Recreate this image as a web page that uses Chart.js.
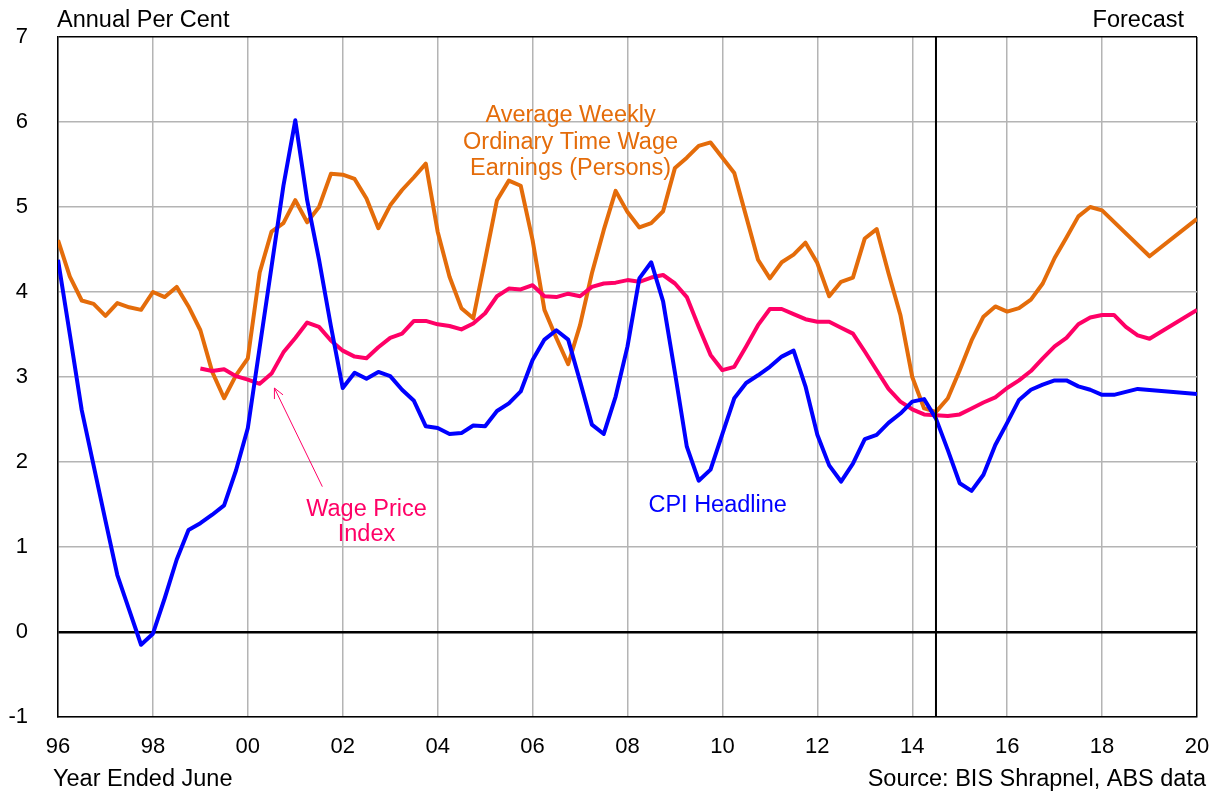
<!DOCTYPE html>
<html>
<head>
<meta charset="utf-8">
<script src="https://cdn.jsdelivr.net/npm/chart.js@4/dist/chart.umd.min.js"></script>
<style>
body{margin:0;background:#fff;}
#wrap{width:1218px;height:793px;}
</style>
</head>
<body>
<div id="wrap"><canvas id="grafica" width="1218" height="793"></canvas></div>
<script>
// quarterly, year ended June, 1996 .. 2020 (null = no vertex, line joins across)
var quarters = [];
for (var q = 0; q <= 96; q++) quarters.push(1996 + q / 4);

var tickLabels = ['96','98','00','02','04','06','08','10','12','14','16','18','20'];

var cpi = [4.38,3.5,2.61,1.96,1.31,0.67,0.26,-0.15,-0.02,0.4,0.85,1.2,
  1.28,1.38,1.49,1.9,2.4,3.35,4.3,5.25,6.02,5.08,4.38,3.6,
  2.87,3.05,2.98,3.06,3.01,2.85,2.72,2.42,2.4,2.33,2.34,2.43,
  2.42,2.6,2.69,2.83,3.2,3.44,3.55,3.44,2.95,2.44,2.33,2.77,
  3.36,4.16,4.35,3.89,3.05,2.18,1.78,1.91,2.33,2.75,2.93,3.02,
  3.12,3.24,3.31,2.89,2.32,1.96,1.77,1.98,2.27,2.32,2.46,2.57,
  2.71,2.74,2.51,2.14,1.75,1.66,1.85,2.2,2.46,2.73,2.85,2.91,
  2.96,2.96,2.89,2.85,2.79,2.79,null,2.86,null,null,null,null,2.8];

var awote = [4.61,4.18,3.9,3.86,3.72,3.87,3.82,3.79,4.0,3.94,4.06,3.83,
  3.55,3.06,2.75,3.02,3.22,4.23,4.71,4.81,5.08,4.82,5.0,5.39,
  5.38,5.33,5.1,4.75,5.02,5.2,5.35,5.51,4.71,4.18,3.81,3.69,
  4.38,5.08,5.31,5.25,4.61,3.79,3.46,3.15,3.61,4.22,4.73,5.19,
  4.94,4.76,4.81,4.95,5.46,5.58,5.72,5.76,5.58,5.4,4.89,4.38,
  4.16,4.35,4.44,4.58,4.34,3.95,4.12,4.17,4.63,4.74,4.22,3.73,
  3.0,2.63,2.59,2.75,3.08,3.43,3.71,3.83,3.77,3.81,3.91,4.1,
  4.4,4.64,4.89,5.0,4.96,null,null,null,4.42,null,null,null,4.86];

var wpi = [null,null,null,null,null,null,null,null,null,null,null,null,
  3.1,3.07,3.09,3.01,2.97,2.92,3.04,3.29,3.46,3.64,3.59,3.43,
  3.31,3.24,3.22,3.35,3.46,3.51,3.66,3.66,3.62,3.6,3.56,3.63,
  3.75,3.95,4.04,4.03,4.08,3.95,3.94,3.98,3.95,4.06,4.1,4.11,
  4.14,4.12,4.17,4.2,4.1,3.94,3.59,3.26,3.08,3.12,3.36,3.61,
  3.8,3.8,3.74,3.68,3.65,3.65,3.58,3.51,3.3,3.08,2.86,2.71,
  2.62,2.56,2.55,2.54,2.56,2.63,2.7,2.76,2.87,2.96,3.07,3.22,
  3.36,3.46,3.62,3.7,3.73,3.73,3.59,3.49,3.45,null,null,null,3.79];

var forecastStart = 2014.5;

var fuente = '"Liberation Sans", Arial, sans-serif';
var azul = '#0000ff', naranja = '#e46c0a', rosa = '#ff0066';

function serie(valores){
  return quarters.map(function(x,i){ return {x:x, y:valores[i]}; });
}

// no extra room for the edge labels, the layout padding sets the plot box
function sinRelleno(s){
  s.paddingTop = 0; s.paddingBottom = 0; s.paddingLeft = 0; s.paddingRight = 0;
}

// texts and the forecast marker
var extras = {
  id: 'extras',
  afterDatasetsDraw: function(chart){
    var c = chart.ctx, xs = chart.scales.x, ys = chart.scales.y, a = chart.chartArea;
    c.save();
    var fx = xs.getPixelForValue(forecastStart);
    c.strokeStyle = '#000'; c.lineWidth = 2;
    c.beginPath(); c.moveTo(fx, a.top); c.lineTo(fx, a.bottom); c.stroke();

    c.font = '23.5px ' + fuente;
    c.textBaseline = 'alphabetic';
    c.fillStyle = '#000';
    c.textAlign = 'left';
    c.fillText('Annual Per Cent', 57, 27);
    c.fillText('Year Ended June', 53, 786);
    c.textAlign = 'right';
    c.fillText('Forecast', 1184, 27);
    c.fillText('Source: BIS Shrapnel, ABS data', 1206, 786);

    c.textAlign = 'center';
    c.fillStyle = naranja;
    var ox = xs.getPixelForValue(2006.8);
    c.fillText('Average Weekly', ox, 122);
    c.fillText('Ordinary Time Wage', ox, 149);
    c.fillText('Earnings (Persons)', ox, 175);

    c.fillStyle = rosa;
    var wx = xs.getPixelForValue(2002.5);
    c.fillText('Wage Price', wx, 516);
    c.fillText('Index', wx, 541);

    c.fillStyle = azul;
    c.fillText('CPI Headline', xs.getPixelForValue(2009.9), 512);

    // arrow to the WPI line
    var x1 = xs.getPixelForValue(2001.57), y1 = ys.getPixelForValue(1.71);
    var x2 = xs.getPixelForValue(2000.56), y2 = ys.getPixelForValue(2.87);
    var ang = Math.atan2(y2 - y1, x2 - x1);
    c.strokeStyle = rosa; c.lineWidth = 1;
    c.beginPath(); c.moveTo(x1, y1); c.lineTo(x2, y2);
    c.moveTo(x2 - 11*Math.cos(ang - 0.45), y2 - 11*Math.sin(ang - 0.45));
    c.lineTo(x2, y2);
    c.lineTo(x2 - 11*Math.cos(ang + 0.45), y2 - 11*Math.sin(ang + 0.45));
    c.stroke();
    c.restore();
  }
};

var linea = {borderWidth:4, pointRadius:0, tension:0, spanGaps:true, borderJoinStyle:'round', fill:false};

new Chart(document.getElementById('grafica'), {
  type: 'line',
  data: {
    datasets: [
      Object.assign({label:'CPI Headline', data:serie(cpi), borderColor:azul}, linea),
      Object.assign({label:'Wage Price Index', data:serie(wpi), borderColor:rosa}, linea),
      Object.assign({label:'Average Weekly Ordinary Time Wage Earnings (Persons)', data:serie(awote), borderColor:naranja}, linea)
    ]
  },
  options: {
    responsive: false,
    animation: false,
    layout: {padding: {top:37, right:21, left:0, bottom:0}},
    plugins: {legend:{display:false}, tooltip:{enabled:false}},
    scales: {
      x: {
        type: 'linear', min: 1996, max: 2020,
        afterFit: function(s){ s.height = 76; sinRelleno(s); },
        ticks: {
          stepSize: 2, autoSkip: false, maxRotation: 0, padding: 17,
          color: '#000', font: {family: fuente, size: 22},
          callback: function(v){ return tickLabels[Math.round((v - 1996) / 2)]; }
        },
        grid: {
          drawTicks: false, lineWidth: 1.5,
          color: function(ctx){ return ctx.tick && ctx.tick.value === 2020 ? '#000' : '#b4b4b4'; }
        },
        border: {color:'#000', width:1.5}
      },
      y: {
        min: -1, max: 7,
        afterFit: function(s){ s.width = 58; sinRelleno(s); },
        ticks: {stepSize: 1, padding: 30, color: '#000', font: {family: fuente, size: 22}},
        grid: {
          drawTicks: false,
          color: function(ctx){ var v = ctx.tick && ctx.tick.value; return (v === 0 || v === 7) ? '#000' : '#b4b4b4'; },
          lineWidth: function(ctx){ return ctx.tick && ctx.tick.value === 0 ? 2.5 : 1.5; }
        },
        border: {color:'#000', width:1.5}
      }
    }
  },
  plugins: [extras]
});
</script>
</body>
</html>
